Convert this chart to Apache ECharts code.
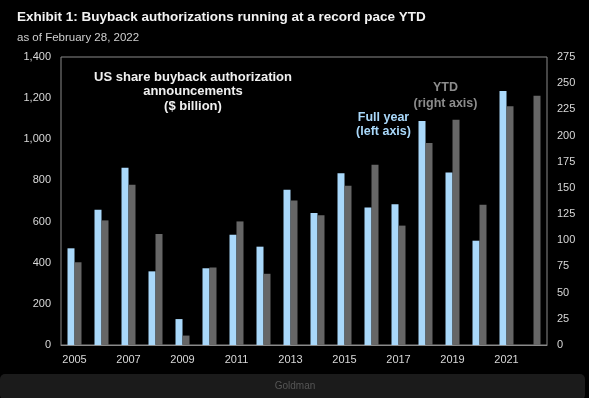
<!DOCTYPE html>
<html>
<head>
<meta charset="utf-8">
<script src="https://cdn.jsdelivr.net/npm/echarts@6/dist/echarts.min.js"></script>
<style>
html,body{margin:0;padding:0;background:#000;}
#c{width:589px;height:398px;}
</style>
</head>
<body>
<div id="c"></div>
<script>
const years = ['2005','2006','2007','2008','2009','2010','2011','2012','2013','2014','2015','2016','2017','2018','2019','2020','2021','2022'];
const fullYear = [470,658,862,358,126,373,536,478,755,642,835,669,684,1089,839,507,1235,null];
const ytd = [79,119,153,106,9,74,118,68,138,124,152,172,114,193,215,134,228,238];
const leftTicks = [0,1400,200];
const rightTicks = [0,275,25];

const chart = echarts.init(document.getElementById('c'), null, {renderer:'canvas'});
const font = '"Liberation Sans", Arial, sans-serif';
chart.setOption({
  backgroundColor:'#000',
  animation:false,
  title:[
    {text:'Exhibit 1: Buyback authorizations running at a record pace YTD', left:12, top:5,
     textStyle:{color:'#f2f2f2', fontSize:13.5, fontWeight:'bold', fontFamily:font}},
    {text:'as of February 28, 2022', left:12, top:27,
     textStyle:{color:'#cfcfcf', fontSize:11.5, fontWeight:'normal', fontFamily:font}}
  ],
  grid:{left:61, right:42, top:57, bottom:53, show:true, borderColor:'#8a8a8a', borderWidth:1},
  xAxis:{type:'category', data:years,
    axisLine:{show:true, lineStyle:{color:'#8a8a8a'}},
    axisTick:{show:false},
    axisLabel:{interval:1, color:'#d8d8d8', fontSize:11, fontFamily:font, margin:9}
  },
  yAxis:[
    {type:'value', min:leftTicks[0], max:leftTicks[1], interval:leftTicks[2],
     splitLine:{show:false}, axisLine:{show:false}, axisTick:{show:false},
     axisLabel:{color:'#d8d8d8', fontSize:11, fontFamily:font, margin:10,
       formatter:v=>v.toLocaleString('en-US')}},
    {type:'value', min:rightTicks[0], max:rightTicks[1], interval:rightTicks[2],
     splitLine:{show:false}, axisLine:{show:false}, axisTick:{show:false},
     axisLabel:{color:'#d8d8d8', fontSize:11, fontFamily:font, margin:10}}
  ],
  series:[
    {name:'Full year', type:'bar', yAxisIndex:0, data:fullYear, barWidth:7, barGap:'0%',
     itemStyle:{color:'#a9d8fa'}},
    {name:'YTD', type:'bar', yAxisIndex:1, data:ytd, barWidth:7,
     itemStyle:{color:'#666666'}}
  ],
  graphic:[
    {type:'text', x:193, y:70, style:{text:'US share buyback authorization\nannouncements\n($ billion)',
      fill:'#f0f0f0', font:'bold 13px '+font, align:'center', lineHeight:14.5}},
    {type:'text', x:383.5, y:110, style:{text:'Full year\n(left axis)',
      fill:'#a9d8fa', font:'bold 12.5px '+font, align:'center', lineHeight:14.5}},
    {type:'text', x:445.5, y:80, style:{text:'YTD\n(right axis)',
      fill:'#8c8c8c', font:'bold 12.5px '+font, align:'center', lineHeight:16}},
    {type:'rect', shape:{x:0, y:374, width:585, height:26, r:5}, style:{fill:'#1b1b1b'}},
    {type:'text', x:295, y:381, style:{text:'Goldman', fill:'#555555', font:'10px '+font, align:'center'}}
  ]
});
</script>
</body>
</html>
